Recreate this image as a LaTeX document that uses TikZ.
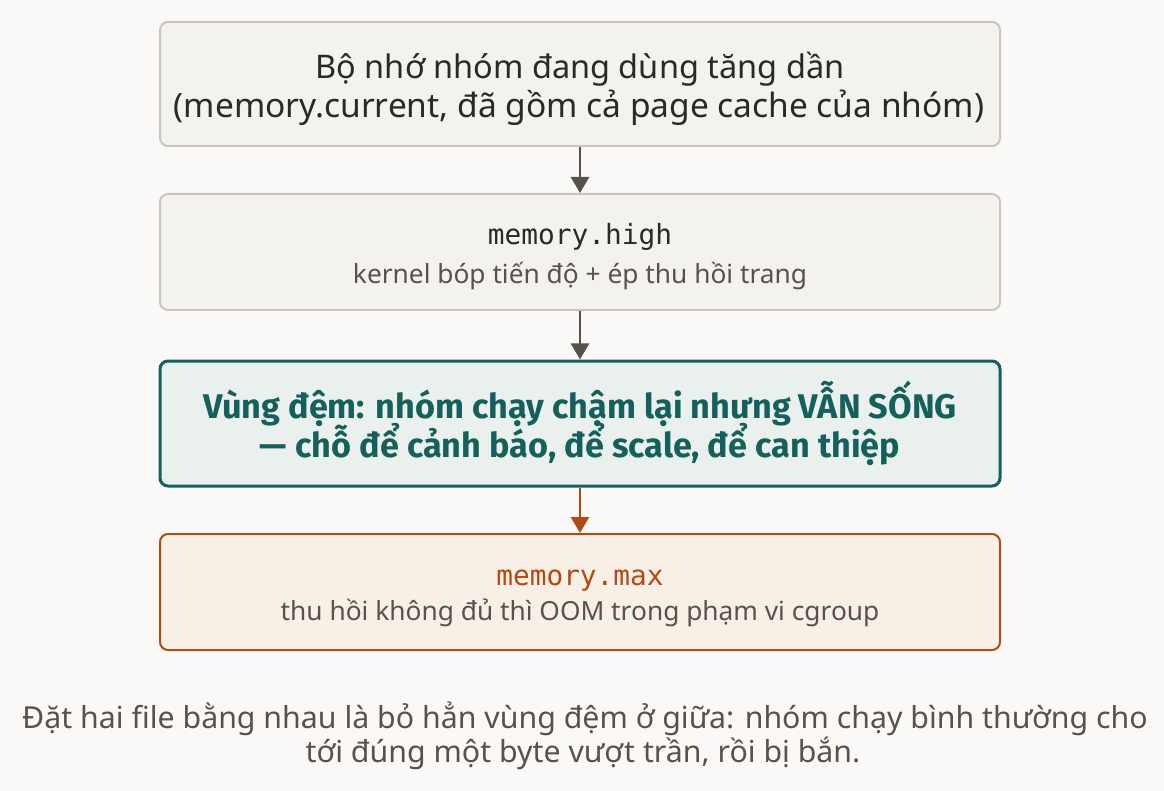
\documentclass[tikz,border=0pt]{standalone}
\usepackage{fontspec}
\setmainfont{Noto Sans}
\newfontfamily\bsans{Fira Sans}
\setmonofont{DejaVu Sans Mono}
\usetikzlibrary{arrows.meta}
\definecolor{bgc}{HTML}{FAF9F7}
\definecolor{greyfill}{HTML}{F3F2EF}
\definecolor{greyline}{HTML}{C9C6BF}
\definecolor{darktext}{HTML}{2A2925}
\definecolor{subtext}{HTML}{57534C}
\definecolor{arrowgrey}{HTML}{55524C}
\definecolor{teal}{HTML}{15605A}
\definecolor{tealfill}{HTML}{E9F0EE}
\definecolor{orng}{HTML}{B34A14}
\definecolor{orngfill}{HTML}{F8EFE7}
\tikzset{
  box/.style={draw=greyline, line width=2pt, fill=greyfill, rounded corners=8pt,
    minimum width=840pt, inner sep=0pt},
  tealbox/.style={box, draw=teal, line width=3pt, fill=tealfill},
  orngbox/.style={box, draw=orng, fill=orngfill},
  txt/.style={inner sep=0pt, anchor=base, text=darktext},
  maintxt/.style={txt, font=\fontsize{32.5}{35}\selectfont},
  monotxt/.style={txt, font=\fontsize{27.8}{33}\selectfont\ttfamily},
  subtxt/.style={txt, text=subtext, font=\fontsize{26.3}{33}\selectfont},
  boldtxt/.style={txt, text=teal, font=\fontsize{34.2}{38}\selectfont\bsans\bfseries},
  captxt/.style={txt, text=subtext, font=\fontsize{30.3}{34}\selectfont},
  conn/.style={line width=2.6pt, draw=arrowgrey, -{Triangle[length=16pt,width=18pt]}},
  oconn/.style={conn, draw=orng},
}
\begin{document}
\begin{tikzpicture}[x=1pt,y=-1pt]
\useasboundingbox[fill=bgc] (0,0) rectangle (1164,791);
\node[box, minimum height=124pt] (b1) at (580,84) {};
\node[box, minimum height=116pt] (b2) at (580,252) {};
\node[tealbox, minimum height=125pt] (b3) at (580,423.5) {};
\node[orngbox, minimum height=116pt] (b4) at (580,592) {};
\node[maintxt] (t1a) at (580,78.3) {Bộ nhớ nhóm đang dùng tăng dần};
\node[maintxt, font=\fontsize{33.5}{35}\selectfont] (t1b) at (579,117.3) {(memory.current, đã gồm cả page cache của nhóm)};
\node[monotxt] (t2a) at (580,245) {memory.high};
\node[subtxt] (t2b) at (580,283.3) {kernel bóp tiến độ + ép thu hồi trang};
\node[boldtxt] (t3a) at (580,418.3) {Vùng đệm: nhóm chạy chậm lại nhưng VẪN SỐNG};
\node[boldtxt] (t3b) at (580,457.2) {— chỗ để cảnh báo, để scale, để can thiệp};
\node[monotxt, text=orng] (t4a) at (580,585) {memory.max};
\node[subtxt] (t4b) at (580,620) {thu hồi không đủ thì OOM trong phạm vi cgroup};
\node[captxt] (c1) at (585,728.3) {Đặt hai file bằng nhau là bỏ hẳn vùng đệm ở giữa: nhóm chạy bình thường cho};
\node[captxt] (c2) at (583,762.3) {tới đúng một byte vượt trần, rồi bị bắn.};
\draw[conn] (b1) -- (b2);
\draw[conn] (b2) -- (b3);
\draw[oconn] (b3) -- (b4);
\end{tikzpicture}
\end{document}
